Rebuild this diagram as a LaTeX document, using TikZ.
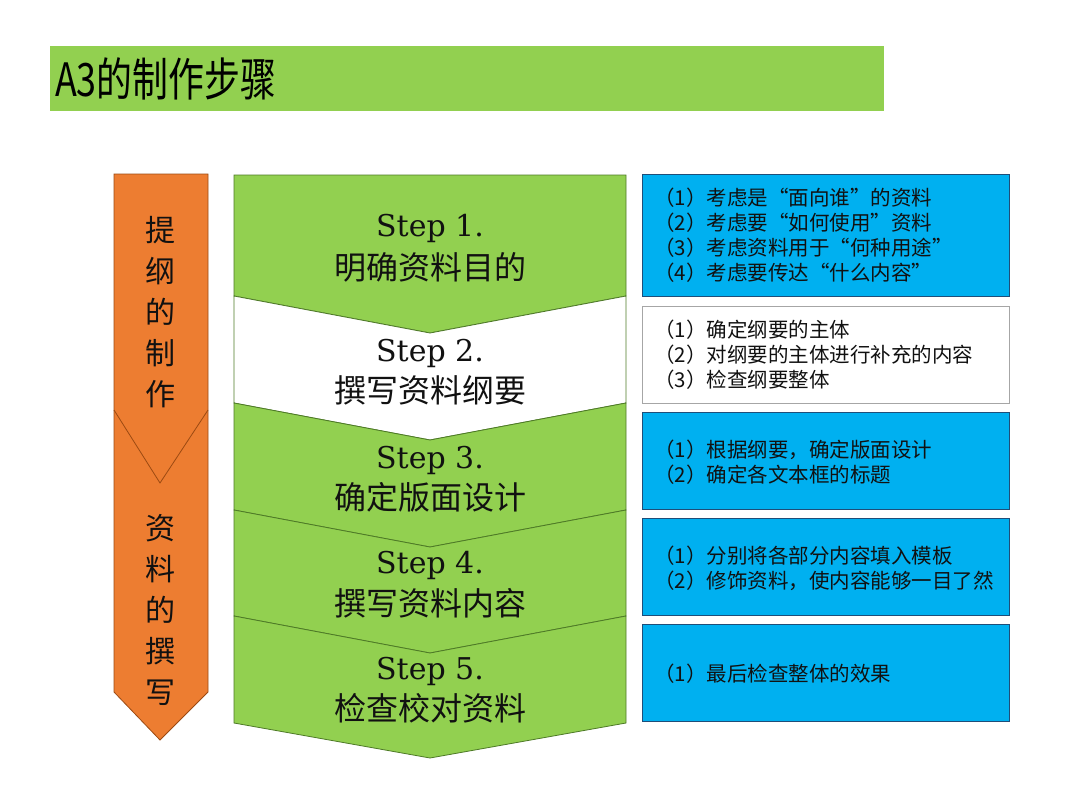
\documentclass[tikz,border=0pt]{standalone}
\usepackage{fontspec}
\newfontfamily\cjk{Noto Sans CJK SC}
\newfontfamily\stepfont{DejaVu Serif}
\definecolor{pgreen}{HTML}{92D050}
\definecolor{pgreenline}{HTML}{4E7A27}
\definecolor{pblue}{HTML}{00B0F0}
\definecolor{pblueline}{HTML}{1F4E79}
\definecolor{porange}{HTML}{ED7D31}
\definecolor{porangeline}{HTML}{9C4A12}
\definecolor{ptext}{HTML}{111111}
\begin{document}
\begin{tikzpicture}[x=1pt,y=-1pt,
  chev/.style={draw=pgreenline, line width=0.8pt, line join=miter},
  steplabel/.style={anchor=base, inner sep=0, text=ptext, font=\stepfont\fontsize{30}{40}\selectfont},
  stepcjk/.style={anchor=base, inner sep=0, text=ptext, font=\cjk\fontsize{32}{40}\selectfont},
  listbox/.style={anchor=north west, inner sep=0, minimum width=367pt, draw=pblueline, line width=0.8pt},
  listtext/.style={anchor=west, inner sep=0, align=left, text=ptext, font=\cjk\fontsize{20.5}{25}\selectfont},
  vtext/.style={inner sep=0, align=center, text=ptext, font=\cjk\fontsize{30}{41}\selectfont}
]
\useasboundingbox (0,0) rectangle (1080,809);
\fill[white] (0,0) rectangle (1080,809);

% title bar
\node[anchor=north west, inner sep=0, minimum width=834pt, minimum height=65pt, fill=pgreen] (titlebar) at (50,46) {};
\node[anchor=west, inner sep=0, xscale=0.78, font=\cjk\fontsize{46}{50}\selectfont, text=black] (titletext) at (55,79) {A3的制作步骤};

% orange arrow
\draw[fill=porange, draw=porangeline, line width=0.8pt] (114,174) -- (208,174) -- (208,692) -- (160,740) -- (114,692) -- cycle;
\draw[porangeline, line width=0.8pt] (114,410) -- (160,483) -- (208,410);
\node[vtext] (ot1) at (160,312) {提\\纲\\的\\制\\作};
\node[vtext] (ot2) at (160,610) {资\\料\\的\\撰\\写};

% chevrons
\draw[chev, fill=pgreen] (234,175) -- (626,175) -- (626,296) -- (430,333) -- (234,296) -- cycle;
\draw[chev, fill=white] (234,296) -- (430,333) -- (626,296) -- (626,403) -- (430,440) -- (234,403) -- cycle;
\draw[chev, fill=pgreen] (234,403) -- (430,440) -- (626,403) -- (626,510) -- (430,547) -- (234,510) -- cycle;
\draw[chev, fill=pgreen] (234,510) -- (430,547) -- (626,510) -- (626,616) -- (430,653) -- (234,616) -- cycle;
\draw[chev, fill=pgreen] (234,616) -- (430,653) -- (626,616) -- (626,723) -- (430,758) -- (234,723) -- cycle;

\node[steplabel] (s1a) at (430,236) {Step 1.};
\node[stepcjk] (s1b) at (430,279) {明确资料目的};
\node[steplabel] (s2a) at (430,361) {Step 2.};
\node[stepcjk] (s2b) at (430,402) {撰写资料纲要};
\node[steplabel] (s3a) at (430,468) {Step 3.};
\node[stepcjk] (s3b) at (430,509) {确定版面设计};
\node[steplabel] (s4a) at (430,573) {Step 4.};
\node[stepcjk] (s4b) at (430,615) {撰写资料内容};
\node[steplabel] (s5a) at (430,679) {Step 5.};
\node[stepcjk] (s5b) at (430,720) {检查校对资料};

% list boxes
\node[listbox, fill=pblue, minimum height=122pt] (b1) at (642,174) {};
\node[listbox, fill=white, draw=gray!70, minimum height=97pt] (b2) at (642,306) {};
\node[listbox, fill=pblue, minimum height=97pt] (b3) at (642,412) {};
\node[listbox, fill=pblue, minimum height=97pt] (b4) at (642,518) {};
\node[listbox, fill=pblue, minimum height=97pt] (b5) at (642,624) {};

\node[listtext] (t1) at (654,235) {（1）考虑是“面向谁”的资料\\（2）考虑要“如何使用”资料\\（3）考虑资料用于“何种用途”\\（4）考虑要传达“什么内容”};
\node[listtext] (t2) at (654,355) {（1）确定纲要的主体\\（2）对纲要的主体进行补充的内容\\（3）检查纲要整体};
\node[listtext] (t3) at (654,462) {（1）根据纲要，确定版面设计\\（2）确定各文本框的标题};
\node[listtext] (t4) at (654,568) {（1）分别将各部分内容填入模板\\（2）修饰资料，使内容能够一目了然};
\node[listtext] (t5) at (654,674) {（1）最后检查整体的效果};
\end{tikzpicture}
\end{document}
